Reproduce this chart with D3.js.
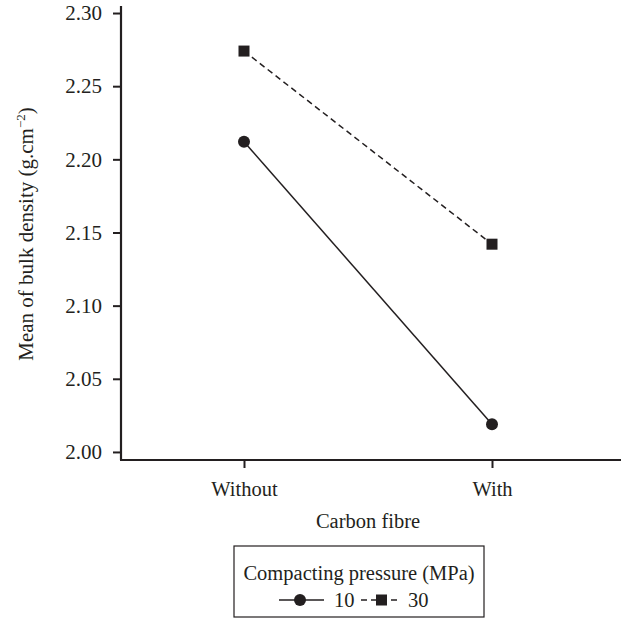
<!DOCTYPE html>
<html>
<head>
<meta charset="utf-8">
<script src="https://cdn.jsdelivr.net/npm/d3@7"></script>
<style>
  body { margin: 0; background: white; }
  svg text { font-family: "Liberation Serif", "Times New Roman", Times, "DejaVu Serif", serif !important; fill: #231f20; }
</style>
</head>
<body>
<div id="chart"></div>
<script>
var categories = ["Without", "With"];
var pressures = ["10", "30"];
var density10 = [2.212, 2.019];
var density30 = [2.274, 2.142];
var yTicks = [2.00, 2.05, 2.10, 2.15, 2.20, 2.25, 2.30];

var fullWidth = 621, fullHeight = 618;
var margin = {top: 6, right: 0, bottom: 158, left: 121};
var width = fullWidth - margin.left - margin.right;
var height = fullHeight - margin.top - margin.bottom;
var ink = "#231f20";
var serif = "'Liberation Serif', 'Times New Roman', Times, 'DejaVu Serif', serif";

var root = d3.select("#chart")
  .append("svg")
    .attr("width", fullWidth)
    .attr("height", fullHeight)
    .attr("font-family", serif);

var svg = root.append("g")
    .attr("transform", "translate(" + margin.left + "," + margin.top + ")");

// Set the ranges
var x = d3.scalePoint().domain(categories).range([123, 371]);
var y = d3.scaleLinear().domain([1.9945, 2.3048]).range([height, 0]);

// Y axis
var yAxis = d3.axisLeft(y).tickValues(yTicks).tickFormat(d3.format(".2f")).tickSize(8).tickPadding(11);
var gy = svg.append("g").attr("class", "y axis").call(yAxis).attr("font-family", serif);
gy.select(".domain").remove();
gy.append("line").attr("x1", 0).attr("x2", 0).attr("y1", 0).attr("y2", height)
  .attr("stroke", ink).attr("stroke-width", 2.2);
gy.selectAll(".tick line").attr("stroke", ink).attr("stroke-width", 2);
gy.selectAll(".tick text").style("font-size", "21px").attr("fill", ink);

// X axis
var xAxis = d3.axisBottom(x).tickSize(8).tickPadding(13);
var gx = svg.append("g").attr("class", "x axis").attr("font-family", serif)
  .attr("transform", "translate(0," + height + ")").call(xAxis);
gx.select(".domain").remove();
gx.append("line").attr("x1", -1).attr("x2", width).attr("y1", 0).attr("y2", 0)
  .attr("stroke", ink).attr("stroke-width", 2.2);
gx.selectAll(".tick line").attr("stroke", ink).attr("stroke-width", 2);
gx.selectAll(".tick text").style("font-size", "20.5px").attr("fill", ink);

// Axis titles
svg.append("text")
  .attr("x", x("Without") + (x("With") - x("Without")) / 2)
  .attr("y", height + 68)
  .attr("text-anchor", "middle")
  .style("font-size", "20.5px")
  .text("Carbon fibre");

var ylab = svg.append("text")
  .attr("transform", "translate(" + (-88) + "," + 228 + ") rotate(-90)")
  .attr("text-anchor", "middle")
  .style("font-size", "21px");
ylab.append("tspan").text("Mean of bulk density (g.cm");
ylab.append("tspan").attr("dy", -8).style("font-size", "13px").text("\u22122");
ylab.append("tspan").attr("dy", 8).text(")");

// Lines
var valueline = d3.line()
  .x(function(d, i) { return x(categories[i]); })
  .y(function(d) { return y(d); });

svg.append("path")
  .attr("d", valueline(density10))
  .attr("fill", "none").attr("stroke", ink).attr("stroke-width", 1.5);

svg.append("path")
  .attr("d", valueline(density30))
  .attr("fill", "none").attr("stroke", ink).attr("stroke-width", 1.5)
  .style("stroke-dasharray", ("6, 4"));

svg.selectAll(".c10").data(density10).enter().append("circle")
  .attr("cx", function(d, i) { return x(categories[i]); })
  .attr("cy", function(d) { return y(d); })
  .attr("r", 6).attr("fill", ink);

svg.selectAll(".s30").data(density30).enter().append("rect")
  .attr("x", function(d, i) { return x(categories[i]) - 5.5; })
  .attr("y", function(d) { return y(d) - 5.5; })
  .attr("width", 11).attr("height", 11).attr("fill", ink);

// Legend
var legend = root.append("g").attr("transform", "translate(234,546)");
legend.append("rect").attr("x", 0).attr("y", 0).attr("width", 250).attr("height", 71)
  .attr("fill", "white").attr("stroke", ink).attr("stroke-width", 1.2);
legend.append("text").attr("x", 125).attr("y", 34).attr("text-anchor", "middle")
  .style("font-size", "20.5px").text("Compacting pressure (MPa)");

var ly = 54;
legend.append("line").attr("x1", 45).attr("x2", 90).attr("y1", ly).attr("y2", ly)
  .attr("stroke", ink).attr("stroke-width", 1.5);
legend.append("circle").attr("cx", 66).attr("cy", ly).attr("r", 6).attr("fill", ink);
legend.append("text").attr("x", 100).attr("y", ly + 7).style("font-size", "20.5px").text(pressures[0]);

legend.append("line").attr("x1", 127).attr("x2", 167).attr("y1", ly).attr("y2", ly)
  .attr("stroke", ink).attr("stroke-width", 1.5).style("stroke-dasharray", ("6, 4"));
legend.append("rect").attr("x", 142).attr("y", ly - 5.5).attr("width", 11).attr("height", 11).attr("fill", ink);
legend.append("text").attr("x", 174).attr("y", ly + 7).style("font-size", "20.5px").text(pressures[1]);
</script>
</body>
</html>
